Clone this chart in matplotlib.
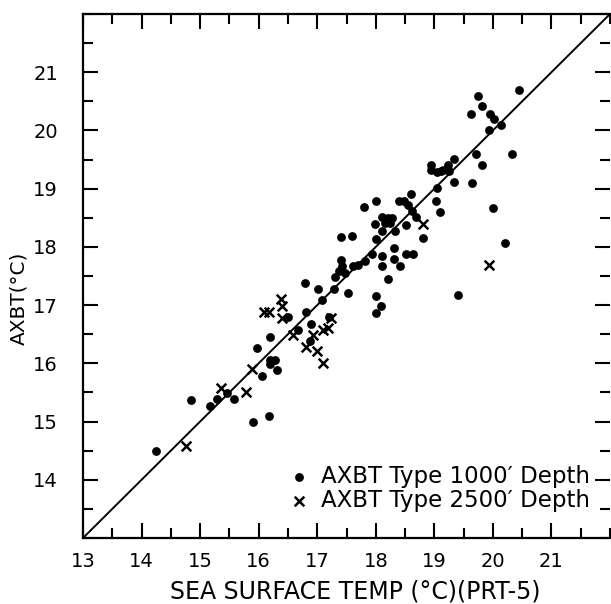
import matplotlib
matplotlib.use("Agg")
import matplotlib.pyplot as plt
from matplotlib.ticker import MultipleLocator, FixedLocator

# --- data ---
sst_1000 = [20.44, 19.75, 19.82, 19.63, 19.95, 20.02, 20.13, 19.93, 19.72, 20.33,
            19.33, 19.82, 19.23, 19.14, 19.25, 19.33, 19.64, 18.94, 18.94, 19.04,
            19.12, 19.04, 19.02, 19.09, 20.01, 18.00, 18.40, 18.61, 18.49, 18.55,
            18.62, 18.11, 18.21, 18.27, 18.15, 18.24, 17.98, 18.10, 18.00, 18.32,
            18.51, 18.69, 18.81, 17.93, 18.11, 18.31, 18.31, 18.51, 18.63, 18.10,
            18.42, 18.21, 20.21, 19.40, 17.41, 17.60, 17.81, 17.70, 17.61, 17.40,
            17.43, 17.37, 17.47, 17.30, 16.79, 17.02, 17.52, 17.29, 18.00, 18.09,
            18.01, 17.09, 16.81, 16.90, 16.50, 17.20, 16.67, 16.19, 16.87, 15.98,
            16.19, 16.28, 16.19, 16.31, 16.05, 15.58, 15.46, 15.28, 15.17, 14.85,
            15.91, 16.18, 14.25, 17.80]
axbt_1000 = [20.70, 20.60, 20.42, 20.29, 20.29, 20.19, 20.10, 20.00, 19.60, 19.60,
             19.51, 19.41, 19.41, 19.32, 19.31, 19.11, 19.09, 19.41, 19.32, 19.28,
             19.30, 19.01, 18.79, 18.60, 18.67, 18.79, 18.78, 18.90, 18.78, 18.72,
             18.61, 18.51, 18.49, 18.49, 18.41, 18.41, 18.39, 18.27, 18.14, 18.27,
             18.38, 18.51, 18.16, 17.88, 17.85, 17.98, 17.80, 17.88, 17.88, 17.67,
             17.67, 17.44, 18.07, 17.18, 18.17, 18.19, 17.76, 17.69, 17.67, 17.78,
             17.67, 17.58, 17.55, 17.48, 17.38, 17.28, 17.21, 17.27, 17.15, 16.99,
             16.86, 17.08, 16.88, 16.68, 16.79, 16.79, 16.58, 16.46, 16.38, 16.26,
             16.05, 16.05, 15.98, 15.89, 15.78, 15.39, 15.49, 15.38, 15.26, 15.37,
             15.00, 15.09, 14.49, 18.68]

sst_2500 = [18.81, 19.93, 17.24, 17.10, 17.19, 16.38, 16.39, 16.09, 16.18, 16.39,
            16.58, 16.93, 16.81, 17.00, 17.10, 15.88, 15.78, 15.35, 14.76]
axbt_2500 = [18.39, 17.69, 16.78, 16.58, 16.61, 17.10, 16.98, 16.89, 16.89, 16.78,
             16.48, 16.49, 16.28, 16.21, 16.01, 15.91, 15.51, 15.58, 14.58]

x_range = [13, 22]
x_tick_labels = [13, 14, 15, 16, 17, 18, 19, 20, 21]
y_tick_labels = [14, 15, 16, 17, 18, 19, 20, 21]
label_1000 = "AXBT Type 1000\u2032 Depth"
label_2500 = "AXBT Type 2500\u2032 Depth"

# --- figure ---
fig = plt.figure(figsize=(6.11, 6.04), dpi=100)
W, H = 611, 604
ax = fig.add_axes([83 / W, 1 - 538 / H, (610 - 83) / W, (538 - 14) / H])

ax.plot(x_range, x_range, color="black", lw=1.4, zorder=2)
ax.scatter(sst_1000, axbt_1000, s=40, color="black", marker="o",
           linewidths=0, zorder=3, label=label_1000)
ax.scatter(sst_2500, axbt_2500, s=48, color="black", marker="x",
           linewidths=1.8, zorder=3, label=label_2500)

ax.set_xlim(x_range)
ax.set_ylim(x_range)

ax.xaxis.set_major_locator(FixedLocator(x_tick_labels))
ax.yaxis.set_major_locator(FixedLocator(y_tick_labels))
ax.xaxis.set_minor_locator(MultipleLocator(0.5))
ax.yaxis.set_minor_locator(MultipleLocator(0.5))
ax.tick_params(which="both", direction="in", top=True, right=True,
               width=1.5, colors="black")
ax.tick_params(which="major", length=11, labelsize=14)
ax.tick_params(axis="x", which="major", pad=10)
ax.tick_params(axis="y", which="major", pad=18)
ax.tick_params(which="minor", length=7)

for s in ax.spines.values():
    s.set_linewidth(1.6)
ax.spines["right"].set_visible(False)

fig.text(355 / W, 1 - 592 / H, "SEA SURFACE TEMP (\u00b0C)(PRT-5)",
         ha="center", va="center", fontsize=17)
fig.text(19 / W, 1 - 298 / H, "AXBT(\u00b0C)", rotation=90,
         ha="center", va="center", fontsize=14.5)

leg = ax.legend(loc="lower right", bbox_to_anchor=(0.962, 0.05),
                frameon=False, fontsize=16.5, handlelength=0.8,
                handletextpad=0.55, labelspacing=0.02, borderpad=0,
                borderaxespad=0)

fig.savefig("out.png", dpi=100)
